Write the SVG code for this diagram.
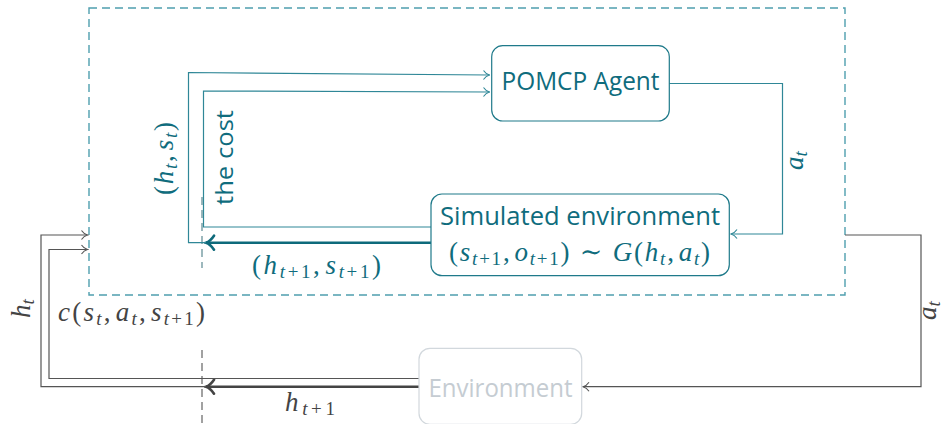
<svg xmlns="http://www.w3.org/2000/svg" width="946" height="424" viewBox="0 0 946 424">
  <style>
    .sans { font-family: "Open Sans", "Noto Sans", sans-serif; }
    .m { font-family: "Liberation Serif", "DejaVu Serif", serif; font-size: 27px; }
    .sub { font-size: 19px; }
    .i { font-style: italic; }
    .tealText { fill: #0f6c7d; }
    .greyText { fill: #444444; }
    .node { fill: #ffffff; stroke-width: 1.2; }
    .tealLine { fill: none; stroke: #2f8797; stroke-width: 1.2; }
    .tealThick { fill: none; stroke: #0e6a7b; stroke-width: 2.6; }
    .greyLine { fill: none; stroke: #555555; stroke-width: 1.2; }
    .greyThick { fill: none; stroke: #444444; stroke-width: 2.6; }
  </style>
  <defs>
    <marker id="toTeal" viewBox="-7 -6 8 12" markerWidth="8" markerHeight="12" refX="0" refY="0" orient="auto" markerUnits="userSpaceOnUse">
      <path d="M-6,-4.5 C-4,-1.5 -1.5,-0.4 0,0 C-1.5,0.4 -4,1.5 -6,4.5" fill="none" stroke="#2f8797" stroke-width="1.1"/>
    </marker>
    <marker id="toGrey" viewBox="-7 -6 8 12" markerWidth="8" markerHeight="12" refX="0" refY="0" orient="auto" markerUnits="userSpaceOnUse">
      <path d="M-6,-4.5 C-4,-1.5 -1.5,-0.4 0,0 C-1.5,0.4 -4,1.5 -6,4.5" fill="none" stroke="#555555" stroke-width="1.1"/>
    </marker>
    <marker id="toTealThick" viewBox="-10 -9 12 18" markerWidth="12" markerHeight="18" refX="0" refY="0" orient="auto" markerUnits="userSpaceOnUse">
      <path d="M-8,-7 C-5,-2.5 -2,-0.6 0,0 C-2,0.6 -5,2.5 -8,7" fill="none" stroke="#0e6a7b" stroke-width="2.6" stroke-linecap="round"/>
    </marker>
    <marker id="toGreyThick" viewBox="-10 -9 12 18" markerWidth="12" markerHeight="18" refX="0" refY="0" orient="auto" markerUnits="userSpaceOnUse">
      <path d="M-8,-7 C-5,-2.5 -2,-0.6 0,0 C-2,0.6 -5,2.5 -8,7" fill="none" stroke="#444444" stroke-width="2.6" stroke-linecap="round"/>
    </marker>
  </defs>

  <!-- planning boundary -->
  <rect id="planner-boundary" x="89" y="8" width="756" height="287" fill="none" stroke="#4f9fae" stroke-width="1.4" stroke-dasharray="8 5"/>

  <!-- time-step divider -->
  <g id="divider" fill="none" stroke="#555555" stroke-width="1.1" stroke-dasharray="8 5">
    <line x1="202" y1="197" x2="202" y2="268" stroke="#4d7f88"/>
    <line x1="202" y1="350" x2="202" y2="424"/>
  </g>

  <g id="connectors">
    <!-- inside the planner -->
    <path class="tealThick" d="M431,242.7 H206" marker-end="url(#toTealThick)"/>
    <path class="tealLine" d="M206,242.7 H188.5 V72.5 L489.5,75" marker-end="url(#toTeal)"/>
    <path class="tealLine" d="M431,227 H203.5 V91 L489.5,92" marker-end="url(#toTeal)"/>
    <path class="tealLine" d="M669,83.5 H782.5 V234 H731" marker-end="url(#toTeal)"/>
    <!-- with the real environment -->
    <path class="greyLine" d="M845,235 H921 V386.7 H583" marker-end="url(#toGrey)"/>
    <path class="greyThick" d="M419,386.7 H206" marker-end="url(#toGreyThick)"/>
    <path class="greyLine" d="M206,386.7 H41 V235 H87.5" marker-end="url(#toGrey)"/>
    <path class="greyLine" d="M419,378.5 H49 V249.5 H87.5" marker-end="url(#toGrey)"/>
  </g>

  <g id="pomcp-agent">
    <rect class="node" x="491.7" y="45.7" width="177.6" height="75.3" rx="11" stroke="#1f7a8a"/>
    <text class="sans tealText" x="580.5" y="89.5" font-size="25" text-anchor="middle" textLength="158" lengthAdjust="spacingAndGlyphs">POMCP Agent</text>
  </g>

  <g id="simulated-environment">
    <rect class="node" x="431" y="194" width="298.3" height="81.7" rx="11" stroke="#1f7a8a"/>
    <text class="sans tealText" x="580" y="225" font-size="25" text-anchor="middle" textLength="280" lengthAdjust="spacingAndGlyphs">Simulated environment</text>
    <text class="m tealText" x="449" y="261" textLength="261">(<tspan class="i">s</tspan><tspan class="sub" dy="4"><tspan class="i">t</tspan>+1</tspan><tspan dy="-4">,</tspan><tspan class="i" dx="3">o</tspan><tspan class="sub" dy="4"><tspan class="i">t</tspan>+1</tspan><tspan dy="-4">) ∼ </tspan><tspan class="i">G</tspan>(<tspan class="i">h</tspan><tspan class="sub i" dy="4">t</tspan><tspan dy="-4">,</tspan><tspan class="i" dx="3">a</tspan><tspan class="sub i" dy="4">t</tspan><tspan dy="-4">)</tspan></text>
  </g>

  <g id="environment">
    <rect class="node" x="419" y="348.3" width="162.7" height="76" rx="11" stroke="#d2d8dd"/>
    <text class="sans" x="500.5" y="397" font-size="25" fill="#c5ccd2" text-anchor="middle" textLength="144" lengthAdjust="spacingAndGlyphs">Environment</text>
  </g>

  <g id="labels">
    <text class="sans tealText" transform="translate(233,157.5) rotate(-90)" font-size="24" text-anchor="middle" textLength="95" lengthAdjust="spacingAndGlyphs">the cost</text>
    <text class="m tealText" transform="translate(173,195) rotate(-90)" textLength="73">(<tspan class="i">h</tspan><tspan class="sub i" dy="4">t</tspan><tspan dy="-4">,</tspan><tspan class="i" dx="3">s</tspan><tspan class="sub i" dy="4">t</tspan><tspan dy="-4">)</tspan></text>
    <text class="m tealText" transform="translate(803,170) rotate(-90)"><tspan class="i">a</tspan><tspan class="sub i" dy="4">t</tspan></text>
    <text class="m tealText" x="252" y="274" textLength="129">(<tspan class="i">h</tspan><tspan class="sub" dy="4"><tspan class="i">t</tspan>+1</tspan><tspan dy="-4">,</tspan><tspan class="i" dx="3">s</tspan><tspan class="sub" dy="4"><tspan class="i">t</tspan>+1</tspan><tspan dy="-4">)</tspan></text>
    <text class="m greyText" x="58" y="321" textLength="147"><tspan class="i">c</tspan>(<tspan class="i">s</tspan><tspan class="sub i" dy="4">t</tspan><tspan dy="-4">,</tspan><tspan class="i" dx="3">a</tspan><tspan class="sub i" dy="4">t</tspan><tspan dy="-4">,</tspan><tspan class="i" dx="3">s</tspan><tspan class="sub" dy="4"><tspan class="i">t</tspan>+1</tspan><tspan dy="-4">)</tspan></text>
    <text class="m greyText" transform="translate(30,318) rotate(-90)"><tspan class="i">h</tspan><tspan class="sub i" dy="4">t</tspan></text>
    <text class="m greyText" transform="translate(936,320) rotate(-90)"><tspan class="i">a</tspan><tspan class="sub i" dy="4">t</tspan></text>
    <text class="m greyText" x="285" y="411" textLength="50"><tspan class="i">h</tspan><tspan class="sub" dy="4"><tspan class="i">t</tspan>+1</tspan></text>
  </g>
</svg>
